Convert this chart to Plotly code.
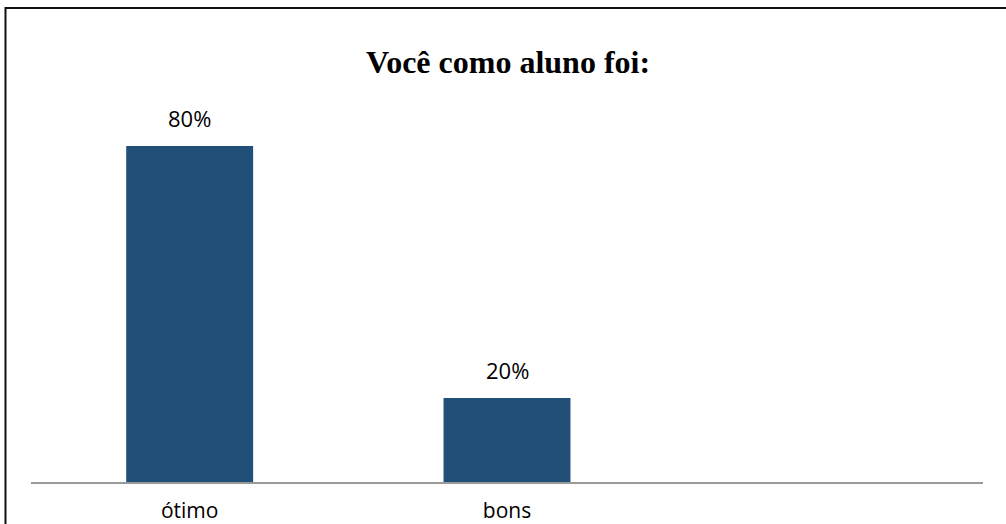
import plotly.graph_objects as go

categories = ["ótimo", "bons", " "]
values = [0.80, 0.20, None]
labels = ["80%", "20%", ""]

W, H = 1006, 524
L, R, T, B = 31, 23, 62, 42
pw = W - L - R
ph = H - T - B

fig = go.Figure()
fig.add_trace(go.Bar(
    x=categories, y=values,
    marker=dict(color="#224f77", line=dict(width=0)),
    hoverinfo="skip",
))

for c, v, t in zip(categories, values, labels):
    if v is not None:
        fig.add_annotation(x=c, y=v, text=t, showarrow=False,
                           yanchor="bottom", yshift=11,
                           font=dict(family="Open Sans", size=22, color="#000000"))

def px_x(p):
    return (p - L) / pw

def px_y(p):
    return (H - B - p) / ph

fig.add_shape(type="rect", xref="paper", yref="paper",
              x0=px_x(5.5), x1=px_x(1012), y0=px_y(540), y1=px_y(8),
              line=dict(color="#111111", width=2), fillcolor="rgba(0,0,0,0)",
              layer="below")

fig.update_layout(
    width=W, height=H,
    margin=dict(l=L, r=R, t=T, b=B, pad=0, autoexpand=False),
    paper_bgcolor="white", plot_bgcolor="white",
    bargap=0.6,
    showlegend=False,
    title=dict(text="<b>Você como aluno foi:</b>", x=0.505, xanchor="center",
               y=1 - 62 / H, yanchor="middle",
               font=dict(family="Liberation Serif", size=32, color="#000000")),
    xaxis=dict(showline=True, linecolor="#9a9a9a", linewidth=2,
               ticks="outside", ticklen=9, tickcolor="rgba(0,0,0,0)",
               tickfont=dict(family="Open Sans", size=21, color="#000000"),
               showgrid=False, zeroline=False, fixedrange=True,
               automargin=False),
    yaxis=dict(range=[0, 1], visible=False, showgrid=False, zeroline=False,
               automargin=False, fixedrange=True),
)

fig.write_html(
    "out.html",
    config={"displayModeBar": False},
    post_script="document.body.style.margin='0';document.body.style.overflow='hidden';",
)
